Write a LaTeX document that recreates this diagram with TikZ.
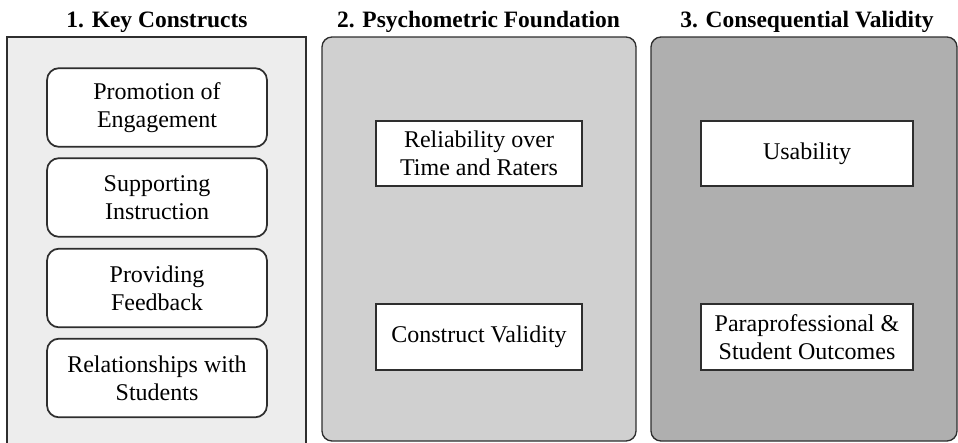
\documentclass[tikz,border=0pt]{standalone}
\usepackage{fontspec}
\setmainfont{Liberation Serif}
\definecolor{edge}{HTML}{2E2E2E}
\definecolor{pone}{HTML}{EDEDED}
\definecolor{ptwo}{HTML}{D0D0D0}
\definecolor{pthree}{HTML}{AFAFAF}
\begin{document}
\begin{tikzpicture}[x=0.75pt,y=-0.75pt,
  paneltitle/.style={font=\fontsize{17.6}{21}\selectfont\bfseries, anchor=base, inner sep=0pt},
  itembox/.style={draw=edge, line width=1.3pt, fill=white, align=center,
     font=\fontsize{18}{21}\selectfont, inner sep=0pt},
  roundbox/.style={itembox, rounded corners=9pt, minimum width=165pt, minimum height=59pt},
  squarebox/.style={itembox, minimum width=154.5pt, minimum height=49pt},
  panel/.style={draw=edge, line width=1pt}]
\useasboundingbox (0,0) rectangle (958,443);
% panels
\path[panel, fill=pone] (7,37) rectangle (306,470);
\path[panel, fill=ptwo, rounded corners=7.5pt] (322,37) rectangle (636,441);
\path[panel, fill=pthree, rounded corners=7.5pt] (651,37) rectangle (957,441);
% titles
\node[paneltitle] (t1) at (157,27) {1. Key Constructs};
\node[paneltitle] (t2) at (478.5,27) {2. Psychometric Foundation};
\node[paneltitle] (t3) at (807,27) {3. Consequential Validity};
% panel 1 boxes
\node[roundbox] (b1) at (157,107.5) {Promotion of\\Engagement};
\node[roundbox] (b2) at (157,197.5) {Supporting\\Instruction};
\node[roundbox] (b3) at (157,288) {Providing\\Feedback};
\node[roundbox] (b4) at (157,378) {Relationships with\\Students};
% panel 2 boxes
\node[squarebox] (r1) at (479,153.5) {Reliability over\\Time and Raters};
\node[squarebox] (r2) at (479,337) {Construct Validity};
% panel 3 boxes
\node[squarebox, minimum width=159.5pt] (c1) at (807,153.5) {Usability};
\node[squarebox, minimum width=159.5pt] (c2) at (807,337) {Paraprofessional \&\\Student Outcomes};
\end{tikzpicture}
\end{document}
